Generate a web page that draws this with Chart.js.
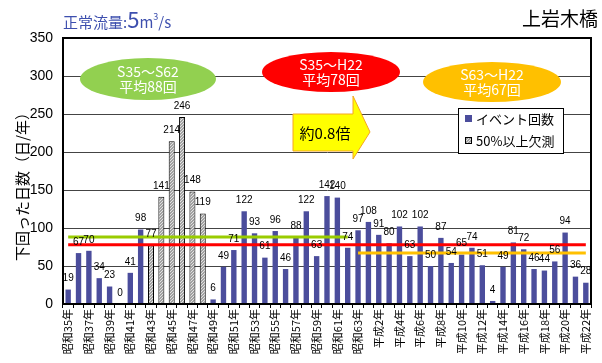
<!DOCTYPE html>
<html>
<head>
<meta charset="utf-8">
<script src="https://cdn.jsdelivr.net/npm/chart.js@4/dist/chart.umd.min.js"></script>
<style>
  html, body { margin: 0; padding: 0; background: #fff; }
  #wrap { position: relative; width: 602px; height: 363px; overflow: hidden; }
  #chart { position: absolute; left: 0; top: 0; }
  .flow { position: absolute; left: 63px; top: 2px; color: #3d4fae; font-family: "Noto Sans CJK JP", sans-serif; white-space: nowrap; }
  .flow .s { font-size: 15px; }
  .flow .b { font-size: 22px; }
  .flow sup { font-size: 9px; vertical-align: 8px; }
  .site { position: absolute; right: 4px; top: 4px; font-family: "Noto Sans CJK JP", sans-serif; font-size: 19px; color: #000; }
</style>
</head>
<body>
<div id="wrap">
  <canvas id="chart" width="602" height="363"></canvas>
  <div class="flow"><span class="s">正常流量:</span><span class="b">5</span><span class="s">m<sup>3</sup>/s</span></div>
  <div class="site">上岩木橋</div>
</div>
<script>
// Years S35 (1960) .. H22 (2010)
const years = [
  '昭和35年','昭和36年','昭和37年','昭和38年','昭和39年','昭和40年','昭和41年','昭和42年','昭和43年','昭和44年',
  '昭和45年','昭和46年','昭和47年','昭和48年','昭和49年','昭和50年','昭和51年','昭和52年','昭和53年','昭和54年',
  '昭和55年','昭和56年','昭和57年','昭和58年','昭和59年','昭和60年','昭和61年','昭和62年','昭和63年','平成元年',
  '平成2年','平成3年','平成4年','平成5年','平成6年','平成7年','平成8年','平成9年','平成10年','平成11年',
  '平成12年','平成13年','平成14年','平成15年','平成16年','平成17年','平成18年','平成19年','平成20年','平成21年',
  '平成22年'
];

// Days per year below the normal flow
const daysBelow = [
  19, 67, 70, 34, 23, 0, 41, 98, 77, 141,
  214, 246, 148, 119, 6, 49, 71, 122, 93, 61,
  96, 46, 88, 122, 63, 142, 140, 74, 97, 108,
  91, 80, 102, 63, 102, 50, 87, 54, 65, 74,
  51, 4, 49, 81, 72, 46, 44, 56, 94, 36,
  28
];

// Years with 50% or more of the record missing
const heavyMissingYears = ['昭和43年','昭和44年','昭和45年','昭和46年','昭和47年','昭和48年'];

// Period averages: [label, from, to, value]
const avgEarly = ['S35～S62', '昭和35年', '昭和62年', 88];
const avgAll   = ['S35～H22', '昭和35年', '平成22年', 78];
const avgLate  = ['S63～H22', '昭和63年', '平成22年', 67];
const ratioText = '約0.8倍';

const seriesNames = ['イベント回数', '50%以上欠測'];
const yTicks = [0, 50, 100, 150, 200, 250, 300, 350];

const BLUE = '#4b4d9c';
const isMissing = years.map(y => heavyMissingYears.includes(y));

function dotted(base, dot) {
  const p = document.createElement('canvas');
  p.width = 3; p.height = 3;
  const g = p.getContext('2d');
  g.fillStyle = base; g.fillRect(0, 0, 3, 3);
  g.fillStyle = dot; g.fillRect(0, 0, 1, 1); g.fillRect(2, 1, 1, 1); g.fillRect(1, 2, 1, 1);
  return g.createPattern(p, 'repeat');
}
const GRAY = dotted('#a2a2a2', '#e2e2e2');

function avgLine(def) {
  const a = years.indexOf(def[1]), b = years.indexOf(def[2]);
  return years.map((_, i) => (i >= a && i <= b) ? def[3] : null);
}

const frame = {
  id: 'frame',
  afterDatasetsDraw(chart) {
    const { ctx, chartArea: ca } = chart;
    ctx.save();
    ctx.strokeStyle = '#000';
    ctx.lineWidth = 2;
    ctx.strokeRect(ca.left, ca.top, ca.right - ca.left, ca.bottom - ca.top);
    ctx.restore();
  }
};

const notes = {
  id: 'notes',
  afterDatasetsDraw(chart) {
    const ctx = chart.ctx;
    ctx.save();
    const font = '"Noto Sans CJK JP", sans-serif';

    // period bubbles
    const bubbles = [
      [avgEarly, 148, 79, 68, 21, '#92d050'],
      [avgAll, 331, 72, 69, 20, '#ff0000'],
      [avgLate, 492, 82, 69, 20, '#ffc000']
    ];
    bubbles.forEach(([def, cx, cy, rx, ry, col]) => {
      ctx.beginPath();
      ctx.ellipse(cx, cy, rx, ry, 0, 0, Math.PI * 2);
      ctx.fillStyle = col;
      ctx.fill();
      ctx.fillStyle = '#fff';
      ctx.font = '14px ' + font;
      ctx.textAlign = 'center';
      ctx.textBaseline = 'middle';
      ctx.fillText(def[0], cx, cy - 7);
      ctx.fillText('平均' + def[3] + '回', cx, cy + 8);
    });

    // arrow
    ctx.beginPath();
    ctx.moveTo(293, 114);
    ctx.lineTo(353, 114);
    ctx.lineTo(353, 96);
    ctx.lineTo(370, 132);
    ctx.lineTo(353, 159);
    ctx.lineTo(353, 151);
    ctx.lineTo(293, 151);
    ctx.closePath();
    ctx.fillStyle = '#ffff00';
    ctx.fill();
    ctx.strokeStyle = '#f5a623';
    ctx.lineWidth = 1;
    ctx.stroke();
    ctx.fillStyle = '#000';
    ctx.font = '15px ' + font;
    ctx.textAlign = 'center';
    ctx.textBaseline = 'middle';
    ctx.fillText(ratioText, 325, 133);

    // legend
    ctx.fillStyle = '#fff';
    ctx.fillRect(458.5, 108.5, 105, 45);
    ctx.strokeStyle = '#000';
    ctx.strokeRect(458.5, 108.5, 105, 45);
    ctx.fillStyle = BLUE;
    ctx.fillRect(465, 115, 7, 7);
    ctx.fillStyle = GRAY;
    ctx.fillRect(465, 137, 7, 7);
    ctx.strokeStyle = '#000';
    ctx.strokeRect(465.5, 137.5, 6, 6);
    ctx.fillStyle = '#000';
    ctx.font = '13px ' + font;
    ctx.textAlign = 'left';
    ctx.fillText(seriesNames[0], 476, 119);
    ctx.fillText(seriesNames[1], 476, 141);

    // y-axis title
    ctx.translate(22, 183);
    ctx.rotate(-Math.PI / 2);
    ctx.font = '15px ' + font;
    ctx.textAlign = 'center';
    ctx.fillText('下回った日数（日/年）', 0, 0);
    ctx.restore();
  }
};

const valueLabels = {
  id: 'valueLabels',
  afterDatasetsDraw(chart) {
    const ctx = chart.ctx;
    ctx.save();
    ctx.fillStyle = '#000';
    ctx.font = '10px "Liberation Sans", Arial, sans-serif';
    ctx.textAlign = 'center';
    ctx.textBaseline = 'middle';
    [0, 1].forEach(di => {
      const meta = chart.getDatasetMeta(di);
      meta.data.forEach((bar, i) => {
        const v = chart.data.datasets[di].data[i];
        if (v === null) return;
        ctx.fillText(String(v), bar.x, bar.y - 11);
      });
    });
    ctx.restore();
  }
};

new Chart(document.getElementById('chart'), {
  data: {
    labels: years,
    datasets: [
      {
        type: 'bar', label: seriesNames[0], order: 2,
        data: daysBelow.map((v, i) => isMissing[i] ? null : v),
        backgroundColor: BLUE, barPercentage: 0.52, categoryPercentage: 1
      },
      {
        type: 'bar', label: seriesNames[1], order: 2,
        data: daysBelow.map((v, i) => isMissing[i] ? v : null),
        backgroundColor: GRAY, borderColor: '#000', borderWidth: 1,
        barPercentage: 0.58, categoryPercentage: 1
      },
      { type: 'line', label: avgEarly[0], order: 1, data: avgLine(avgEarly), borderColor: '#99cc00', borderWidth: 3, pointRadius: 0, spanGaps: false },
      { type: 'line', label: avgAll[0], order: 1, data: avgLine(avgAll), borderColor: '#ff0000', borderWidth: 3, pointRadius: 0, spanGaps: false },
      { type: 'line', label: avgLate[0], order: 1, data: avgLine(avgLate), borderColor: '#ffc000', borderWidth: 3, pointRadius: 0, spanGaps: false }
    ]
  },
  options: {
    responsive: false,
    animation: false,
    layout: { padding: { top: 38, right: 11, left: 0, bottom: 0 } },
    plugins: { legend: { display: false }, tooltip: { enabled: false } },
    scales: {
      x: {
        stacked: true,
        offset: true,
        grid: { offset: true, drawOnChartArea: false, tickLength: 4, color: '#000' },
        border: { color: '#000', width: 2 },
        ticks: {
          autoSkip: false, maxRotation: 90, minRotation: 90, padding: 1,
          color: '#000', font: { size: 11, family: '"Noto Sans CJK JP", sans-serif' },
          callback: (v, i) => (i % 2 === 0 ? years[i] : '')
        },
        afterFit: s => { s.height = 59; }
      },
      y: {
        min: 0, max: 350,
        afterBuildTicks: s => { s.ticks = yTicks.map(v => ({ value: v })); },
        grid: { color: '#444', drawTicks: false },
        border: { color: '#000', width: 2 },
        ticks: { padding: 10, color: '#000', font: { size: 14, family: '"Liberation Sans", Arial, sans-serif' } },
        afterFit: s => { s.width = 63; }
      }
    }
  },
  plugins: [frame, notes, valueLabels]
});
</script>
</body>
</html>
